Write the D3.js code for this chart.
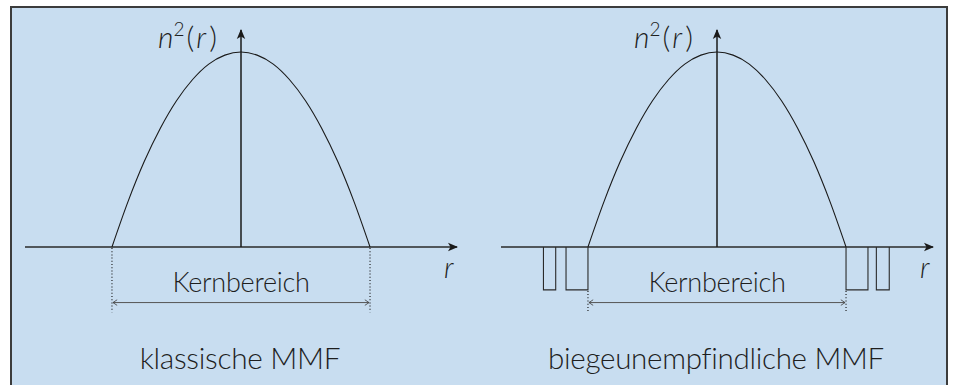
<!DOCTYPE html>
<html>
<head>
<meta charset="utf-8">
<script src="https://cdn.jsdelivr.net/npm/d3@7"></script>
<style>
  body { margin: 0; background: #fff; }
  svg { display: block; }
  text { fill: #1e1e1e; }
</style>
</head>
<body>
<div id="chart"></div>
<script>
// refractive index profile n^2(r) (core radius = 1, peak = 1)
var profileR  = [-1, -0.875, -0.75, -0.625, -0.5, -0.375, -0.25, -0.125, 0, 0.125, 0.25, 0.375, 0.5, 0.625, 0.75, 0.875, 1];
var profileN2 = [0, 0.234, 0.438, 0.609, 0.75, 0.859, 0.938, 0.984, 1, 0.984, 0.938, 0.859, 0.75, 0.609, 0.438, 0.234, 0];

// trenches of the bend-insensitive fibre [r start, r end]
var trenchStart = [-1.345, -1.17, 1.0, 1.235];
var trenchEnd   = [-1.25, -1.0, 1.17, 1.335];
var trenchDepth = -0.22;

var panelTitles = ["klassische MMF", "biegeunempfindliche MMF"];
var panelTrench = [false, true];
var coreLabel = "Kernbereich";

var rDomain = [-1.674, 1.674];
var yAxisTop = 1.113;

var W = 953, H = 385;
var panelOffset = 476;

var svg = d3.select("#chart").append("svg")
    .attr("width", W)
    .attr("height", H);

// frame
svg.append("rect")
    .attr("x", 11).attr("y", 7)
    .attr("width", 936).attr("height", 420)
    .attr("fill", "#c8ddf0")
    .attr("stroke", "#3c3c3c")
    .attr("stroke-width", 2);

var defs = svg.append("defs");
defs.append("marker")
    .attr("id", "arrow-axis")
    .attr("markerUnits", "userSpaceOnUse")
    .attr("viewBox", "0 -5 10 10")
    .attr("refX", 9).attr("refY", 0)
    .attr("markerWidth", 10).attr("markerHeight", 10)
    .attr("orient", "auto")
    .append("path")
    .attr("d", "M0,-4.2L10,0L0,4.2L2.5,0Z")
    .attr("fill", "#1a1a1a");

defs.append("marker")
    .attr("id", "arrow-dim")
    .attr("markerUnits", "userSpaceOnUse")
    .attr("viewBox", "0 -5 10 10")
    .attr("refX", 9).attr("refY", 0)
    .attr("markerWidth", 7).attr("markerHeight", 7)
    .attr("orient", "auto-start-reverse")
    .append("path")
    .attr("d", "M3,-4L9,0L3,4")
    .attr("fill", "none")
    .attr("stroke", "#444")
    .attr("stroke-width", 1.2);

var xScale = d3.scaleLinear().domain(rDomain).range([25, 457]);
var yScale = d3.scaleLinear().domain([0, 1]).range([247, 52]);

var profile = profileR.map(function(r, i) { return [r, profileN2[i]]; });

var line = d3.line()
    .x(function(d) { return xScale(d[0]); })
    .y(function(d) { return yScale(d[1]); });

panelTitles.forEach(function(title, p) {
    var g = svg.append("g")
        .attr("transform", "translate(" + (p * panelOffset) + ",0)");

    var trenchBottom = panelTrench[p] ? trenchDepth : 0;

    // dotted core boundaries
    [-1, 1].forEach(function(r) {
        g.append("line")
            .attr("x1", xScale(r)).attr("x2", xScale(r))
            .attr("y1", yScale(trenchBottom) + 1)
            .attr("y2", yScale(-0.335))
            .attr("stroke", "#222")
            .attr("stroke-width", 1.2)
            .attr("stroke-dasharray", "1,2.2");
    });

    // dimension arrow
    g.append("line")
        .attr("x1", xScale(-1) + 1).attr("x2", xScale(1) - 1)
        .attr("y1", yScale(-0.285)).attr("y2", yScale(-0.285))
        .attr("stroke", "#555")
        .attr("stroke-width", 1)
        .attr("marker-start", "url(#arrow-dim)")
        .attr("marker-end", "url(#arrow-dim)");

    // trenches
    if (panelTrench[p]) {
        trenchStart.forEach(function(r0, i) {
            var r1 = trenchEnd[i];
            g.append("path")
                .datum([[r0, 0], [r0, trenchDepth], [r1, trenchDepth], [r1, 0]])
                .attr("d", line)
                .attr("fill", "none")
                .attr("stroke", "#2a2a2a")
                .attr("stroke-width", 1.1);
        });
    }

    // axes
    g.append("line")
        .attr("x1", xScale(rDomain[0])).attr("x2", xScale(rDomain[1]))
        .attr("y1", yScale(0)).attr("y2", yScale(0))
        .attr("stroke", "#2a2a2a")
        .attr("stroke-width", 1.5)
        .attr("marker-end", "url(#arrow-axis)");

    g.append("line")
        .attr("x1", xScale(0)).attr("x2", xScale(0))
        .attr("y1", yScale(0)).attr("y2", yScale(yAxisTop))
        .attr("stroke", "#1a1a1a")
        .attr("stroke-width", 1.5)
        .attr("marker-end", "url(#arrow-axis)");

    // profile curve
    g.append("path")
        .datum(profile)
        .attr("d", line.curve(d3.curveMonotoneX))
        .attr("fill", "none")
        .attr("stroke", "#1a1a1a")
        .attr("stroke-width", 1.1);
    line.curve(d3.curveLinear);

    // labels
    var yl = g.append("text")
        .attr("x", 158).attr("y", 48)
        .style("font-family", "Lato")
        .style("font-weight", 300)
        .style("font-size", "30px");
    yl.append("tspan").style("font-style", "italic").text("n");
    yl.append("tspan").attr("dy", -12).style("font-size", "19px").text("2");
    yl.append("tspan").attr("dy", 12).attr("dx", 2).text("(");
    yl.append("tspan").attr("dx", 2).style("font-style", "italic").text("r");
    yl.append("tspan").attr("dx", 3).text(")");

    g.append("text")
        .attr("x", 444).attr("y", 278)
        .style("font-family", "Lato")
        .style("font-weight", 300)
        .style("font-style", "italic")
        .style("font-size", "29px")
        .text("r");

    var kl = g.append("text")
        .attr("x", xScale(0)).attr("y", 292)
        .attr("text-anchor", "middle")
        .style("font-family", "Lato")
        .style("font-weight", 300)
        .style("font-size", "26px")
        .style("letter-spacing", "-0.3px")
        .text(coreLabel);
    fitWidth(kl, 137);

    var tl = g.append("text")
        .attr("x", xScale(0) - 1).attr("y", 369)
        .attr("text-anchor", "middle")
        .style("font-family", "Lato")
        .style("font-weight", 300)
        .style("font-size", "26px")
        .style("letter-spacing", "-0.3px")
        .text(title);
    fitWidth(tl, p === 0 ? 200 : 335);
});

function fitWidth(sel, target) {
    var size = parseFloat(sel.style("font-size"));
    var w = sel.node().getComputedTextLength();
    if (w > 0) sel.style("font-size", (size * target / w).toFixed(2) + "px");
}
</script>
</body>
</html>
